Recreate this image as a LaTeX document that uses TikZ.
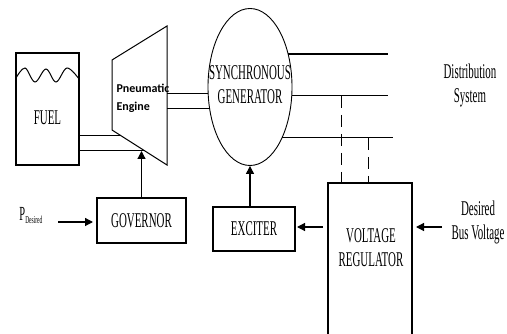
\documentclass[tikz,border=0pt]{standalone}
\usepackage{fontspec}
\setmainfont{Liberation Serif}
\newfontfamily\condfont{Liberation Serif}[FakeStretch=0.52]
\newfontfamily\engfont{Carlito}
\usetikzlibrary{arrows.meta,calc,shapes.geometric}
\begin{document}
\begin{tikzpicture}[x=1pt,y=-1pt,
  line width=1pt,
  blk/.style={draw, line width=1.2pt, inner sep=0pt},
  lbl/.style={font=\condfont\fontsize{21}{24}\selectfont, align=center, inner sep=0pt},
  arr/.style={-{Triangle[length=8pt,width=8pt]}, line width=1.2pt},
  dsh/.style={dash pattern=on 12pt off 7pt}]
\clip (0,0) rectangle (507,334);
% fuel tank
\node[blk, minimum width=63pt, minimum height=112pt] (fuel) at (47.5,109) {};
\node[lbl] (fuelt) at (47.5,118) {FUEL};
\draw[line width=1pt] plot[smooth, tension=0.6] coordinates {(16,78) (25,68) (35,82) (46,69) (56,82) (67,68) (79,79)};
% pneumatic engine
\coordinate (e1) at (112,60);
\coordinate (e2) at (167,26);
\coordinate (e3) at (167,165);
\coordinate (e4) at (112,130);
\draw (e1) -- (e2) -- (e3) -- (e4) -- cycle;
\node[font=\engfont\bfseries\fontsize{12}{18}\selectfont, align=left, anchor=west, inner sep=0pt] (engt) at (116,98) {Pneumatic\\Engine};
% fuel lines
\coordinate (d1) at ($(e4)!0.171!(e3)$);
\coordinate (d2) at ($(e4)!0.6!(e3)$);
\draw (fuel.east |- d1) -- (d1);
\draw (fuel.east |- d2) -- (d2);
% generator
\node[draw, ellipse, minimum width=84pt, minimum height=157pt, inner sep=0pt, line width=0.9pt] (gen) at (250,87) {};
\node[lbl] (gent) at (250,85) {SYNCHRONOUS\\GENERATOR};
% shafts
\coordinate (s1) at (208.2,94);
\coordinate (s2) at (209.7,109);
\draw (e2 |- s1) -- (s1);
\draw (e2 |- s2) -- (s2);
% output lines
\coordinate (o1) at (288.1,54);
\coordinate (o2) at (291.7,96);
\coordinate (o3) at (281.9,138);
\coordinate (o1e) at (388,54);
\coordinate (o2e) at (388,96);
\coordinate (o3e) at (393,138);
\draw[line width=1.3pt] (o1) -- (o1e);
\draw (o2) -- (o2e);
\draw (o3) -- (o3e);
\node[lbl] (dist) at (470,85) {Distribution\\System};
% voltage regulator
\node[blk, minimum width=84pt, minimum height=180pt] (vr) at (370,273) {};
\node[lbl] (vrt) at (371,248) {VOLTAGE\\REGULATOR};
\coordinate (t1) at (341,96);
\coordinate (t2) at (368,138);
\draw[dsh] (t1) -- (t1 |- vr.north);
\draw[dsh] (t2) -- (t2 |- vr.north);
% exciter
\node[blk, minimum width=82pt, minimum height=44pt] (exc) at (254,229) {};
\node[lbl] (exct) at (254,229) {EXCITER};
\draw[arr] (exc.north -| gen.south) -- (gen.south);
\coordinate (va) at (323,227);
\coordinate (vb) at (297,227);
\draw[arr] (va) -- (vb);
% desired bus voltage
\node[lbl] (dbv) at (478,222) {Desired\\Bus Voltage};
\coordinate (da) at (442,227);
\coordinate (db) at (416,227);
\draw[arr] (da) -- (db);
% governor
\node[blk, minimum width=89pt, minimum height=45pt, font=\condfont\fontsize{21}{24}\selectfont] (gov) at (141.5,220.5) {GOVERNOR};
\draw[arr] (gov.north) -- (gov.north |- d2);
\node[font=\condfont\fontsize{20}{24}\selectfont, anchor=base west, inner sep=0pt] (pd) at (19,221) {P\raisebox{-3pt}{\fontsize{10.5}{12}\selectfont Desired}};
\coordinate (pa) at (58,222);
\coordinate (pb) at (93,222);
\draw[arr] (pa) -- (pb);
\end{tikzpicture}
\end{document}
